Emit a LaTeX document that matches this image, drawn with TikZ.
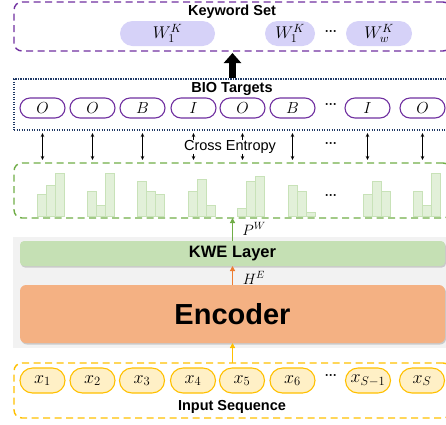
\RequirePackage{fix-cm}
\documentclass[tikz,border=0pt]{standalone}
\usepackage{fontspec}
\setmainfont{Liberation Sans}
\usepackage{tikz}
\usetikzlibrary{arrows.meta,shapes.misc,shadows}
\definecolor{kwpurple}{HTML}{7030A0}
\definecolor{kwlav}{HTML}{D6D2F8}
\definecolor{bionavy}{HTML}{1F3864}
\definecolor{distgreen}{HTML}{70AD47}
\definecolor{barfill}{HTML}{E2F0D9}
\definecolor{barline}{HTML}{C8E2B8}
\definecolor{kwegreen}{HTML}{C5E0B4}
\definecolor{encorange}{HTML}{F4B183}
\definecolor{arrorange}{HTML}{ED7D31}
\definecolor{inyellow}{HTML}{FFC000}
\definecolor{inpale}{HTML}{FFF0C6}
\definecolor{panelgrey}{HTML}{F2F2F2}
\newcommand{\histo}[4]{%
  \draw[bar] (#1,216) rectangle ++(9.2,-#2);
  \draw[bar] ({#1+9.2},216) rectangle ++(9.2,-#3);
  \draw[bar] ({#1+18.4},216) rectangle ++(9.2,-#4);}

\begin{document}
\begin{tikzpicture}[x=1pt, y=-1pt,
    every node/.style={inner sep=0pt, outer sep=0pt},
    region/.style={line width=1.4pt, rounded corners=8pt,
      dash pattern=on 7pt off 4.5pt, minimum width=437pt, minimum height=#1},
    title/.style={font=\fontsize{14.5}{16}\selectfont\bfseries},
    dots/.style={font=\fontsize{12}{14}\selectfont\bfseries},
    kwpill/.style={rounded rectangle, fill=kwlav, minimum height=25pt,
      minimum width=#1, font=\fontsize{17}{19}\selectfont},
    biopill/.style={rounded rectangle, draw=kwpurple, line width=1.1pt, fill=white,
      minimum height=20pt, minimum width=45pt, font=\fontsize{16}{18}\selectfont},
    inpill/.style={rounded rectangle, draw=inyellow, line width=1.1pt, fill=inpale,
      minimum height=25pt, minimum width=45pt, font=\fontsize{18}{20}\selectfont},
    bar/.style={fill=barfill, draw=barline, line width=0.6pt},
    ce/.style={{Stealth[length=4pt,width=3.5pt]}-{Stealth[length=4pt,width=3.5pt]},
      line width=0.9pt, shorten >=3pt, shorten <=3pt},
    cetip/.style={-{Stealth[length=4pt,width=3.5pt]}, line width=0.9pt, shorten >=3pt},
    flow/.style={-{Triangle[length=5pt,width=5pt]}, line width=1.2pt},
    layer/.style={minimum width=425pt, drop shadow={shadow xshift=1pt,
      shadow yshift=-1.5pt, opacity=0.35}}]
  \useasboundingbox (0,0) rectangle (446,424);
  \clip (0,0) rectangle (446,424);
% keyword set
  \node[region=49pt, draw=kwpurple] (kwbox) at (232.5,26.5) {};
  \node[title] (kwtitle) at (232,12) {Keyword Set};
  \node[kwpill=95pt] (kw1) at (167.5,33.5) {$W_1^K$};
  \node[kwpill=50pt] (kw2) at (290,33.5) {$W_1^K$};
  \node[kwpill=66pt] (kw3) at (379,33.5) {$W_w^K$};
  \node[dots] (kwdots) at (331,33) {···};
% BIO targets
  \node[draw=bionavy, line width=1.3pt, dash pattern=on 1.2pt off 1.3pt,
    minimum width=437pt, minimum height=51pt] (bio) at (232.5,104.5) {};
  \node[title] (biotitle) at (232,89) {BIO Targets};
  \node[biopill] (t1) at (42.5,108) {$O$};
  \node[biopill] (t2) at (92.5,108) {$O$};
  \node[biopill] (t3) at (142.5,108) {$B$};
  \node[biopill] (t4) at (193.5,108) {$I$};
  \node[biopill] (t5) at (242.5,108) {$O$};
  \node[biopill] (t6) at (292.5,108) {$B$};
  \node[biopill] (t7) at (367.5,108) {$I$};
  \node[biopill] (t8) at (422.5,108) {$O$};
  \node[dots] (biodots) at (331,106) {···};
  \draw[line width=7pt, -{Triangle[length=10pt,width=17pt]}, shorten >=2pt,
    shorten <=1pt] (bio.north) -- (kwbox.south);
% cross entropy
  \node[font=\fontsize{14.5}{16}\selectfont] (ce) at (230,147) {Cross Entropy};
  \node[dots] (cedots) at (331,145) {···};
  \node[region=55pt, draw=distgreen] (dist) at (232.5,190.5) {};
  \draw[ce] (t1 |- bio.south) -- (t1 |- dist.north);
  \draw[ce] (t2 |- bio.south) -- (t2 |- dist.north);
  \draw[ce] (t3 |- bio.south) -- (t3 |- dist.north);
  \draw[ce] (t6 |- bio.south) -- (t6 |- dist.north);
  \draw[ce] (t7 |- bio.south) -- (t7 |- dist.north);
  \draw[ce] (t8 |- bio.south) -- (t8 |- dist.north);
  \draw[cetip] (t4 |- ce.north) -- (t4 |- bio.south);
  \draw[cetip] (t4 |- ce.south) -- (t4 |- dist.north);
  \draw[cetip] (t5 |- ce.north) -- (t5 |- bio.south);
  \draw[cetip] (t5 |- ce.south) -- (t5 |- dist.north);
% distributions
  \histo{37}{22}{31}{43}
  \histo{87}{25}{11}{43}
  \histo{137}{35}{25}{22}
  \histo{188}{25}{37}{11}
  \histo{237}{8}{35}{40}
  \histo{288}{31}{25}{4}
  \histo{363}{22}{35}{25}
  \histo{413}{25}{11}{43}
  \node[dots] (distdots) at (331,197) {···};
% model
  \fill[panelgrey] (13,237) rectangle (460,348);
  \node[layer, fill=kwegreen, rounded corners=4pt, minimum height=25pt,
    font=\fontsize{16.5}{18}\selectfont\bfseries] (kwe) at (232.5,253.5) {KWE Layer};
  \node[layer, fill=encorange, rounded corners=6pt, minimum height=58pt,
    font=\fontsize{29}{32}\selectfont\bfseries] (enc) at (232.5,314) {Encoder};
  \draw[flow, distgreen] (kwe.north) -- (dist.south);
  \node[font=\fontsize{15}{17}\selectfont] (pw) at (254,229) {$P^W$};
  \draw[flow, arrorange] (enc.north) -- (kwe.south);
  \node[font=\fontsize{15}{17}\selectfont] (he) at (254,278) {$H^E$};
% input sequence
  \node[region=55pt, draw=inyellow] (inp) at (232.5,390.5) {};
  \draw[flow, inyellow] (inp.north) -- (enc.south);
  \node[inpill] (x1) at (42.5,380.5) {$x_1$};
  \node[inpill] (x2) at (92.5,380.5) {$x_2$};
  \node[inpill] (x3) at (142,380.5) {$x_3$};
  \node[inpill] (x4) at (193,380.5) {$x_4$};
  \node[inpill] (x5) at (242,380.5) {$x_5$};
  \node[inpill] (x6) at (292.5,380.5) {$x_6$};
  \node[inpill] (x7) at (368,380.5) {$x_{S-1}$};
  \node[inpill] (x8) at (422,380.5) {$x_S$};
  \node[dots] (inpdots) at (331,377) {···};
  \node[title] (inptitle) at (232,407) {Input Sequence};
\end{tikzpicture}
\end{document}
